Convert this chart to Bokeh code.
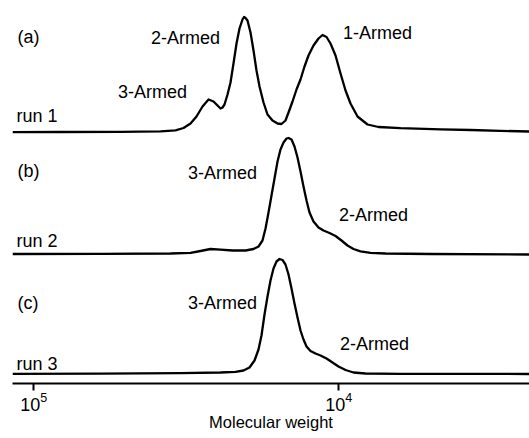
import numpy as np
from bokeh.plotting import figure
from bokeh.models import Range1d, Label, FixedTicker
from bokeh.embed import file_html
from bokeh.resources import INLINE

# ---- data: log10(molecular weight) and detector signal ----
log_mw_run1 = [5.0699, 4.9125, 4.7158, 4.5846, 4.5354, 4.5092, 4.4862, 4.4666, 4.4469, 4.4272,
               4.4108, 4.3879, 4.3813, 4.3748, 4.3649, 4.3551, 4.3453, 4.3354, 4.3256, 4.3158,
               4.3108, 4.3059, 4.2994, 4.2895, 4.2797, 4.2699, 4.2600, 4.2469, 4.2338, 4.2174,
               4.2010, 4.1879, 4.1748, 4.1649, 4.1518, 4.1387, 4.1256, 4.1125, 4.0994, 4.0830,
               4.0666, 4.0535, 4.0403, 4.0272, 4.0108, 3.9944, 3.9780, 3.9617, 3.9387, 3.9059,
               3.8699, 3.7977, 3.6666, 3.5682, 3.4698, 3.3748]
signal_run1 = [0.0, 0.2, 0.4, 0.9, 1.9, 4.2, 8.7, 15.7, 25.7, 32.7,
               30.7, 23.7, 24.7, 27.7, 37.7, 49.7, 68.7, 88.7, 103.7, 112.7,
               115.2, 114.2, 111.7, 99.7, 81.7, 61.7, 45.7, 29.7, 17.7, 11.7,
               8.7, 8.2, 11.7, 19.7, 30.7, 42.7, 52.7, 65.7, 76.7, 86.7,
               93.7, 97.2, 95.2, 88.7, 76.7, 58.7, 41.7, 28.7, 15.7, 7.7,
               5.2, 4.0, 2.9, 2.2, 1.4, 0.7]

log_mw_run2 = [5.0699, 4.7813, 4.5518, 4.4862, 4.4535, 4.4207, 4.3879, 4.3485, 4.3059, 4.2797,
               4.2633, 4.2502, 4.2403, 4.2305, 4.2207, 4.2108, 4.2010, 4.1912, 4.1813, 4.1715,
               4.1649, 4.1551, 4.1453, 4.1354, 4.1256, 4.1158, 4.1059, 4.0961, 4.0830, 4.0666,
               4.0502, 4.0305, 4.0108, 3.9912, 3.9715, 3.9518, 3.9289, 3.8961, 3.8469, 3.6994,
               3.3748]
signal_run2 = [0.5, 0.7, 1.0, 1.7, 3.5, 5.5, 4.8, 4.0, 4.0, 5.5,
               8.0, 14.0, 26.0, 42.0, 59.0, 76.0, 93.0, 105.0, 112.0, 116.0,
               116.5, 115.0, 108.0, 97.0, 83.0, 68.0, 54.0, 42.0, 33.0, 27.0,
               24.0, 21.5, 18.5, 14.0, 9.0, 5.5, 3.2, 1.7, 1.0, 0.5,
               0.0]

log_mw_run3 = [5.0699, 4.7813, 4.5190, 4.3879, 4.3387, 4.3125, 4.2928, 4.2764, 4.2633, 4.2535,
               4.2436, 4.2338, 4.2240, 4.2141, 4.2043, 4.1944, 4.1846, 4.1748, 4.1649, 4.1551,
               4.1453, 4.1354, 4.1256, 4.1158, 4.1059, 4.0928, 4.0764, 4.0600, 4.0403, 4.0207,
               4.0010, 3.9780, 3.9518, 3.9125, 3.7977, 3.3748]
signal_run3 = [0.2, 0.4, 0.8, 1.5, 2.2, 3.5, 6.5, 13.5, 24.5, 38.5,
               59.5, 77.5, 93.5, 105.5, 112.5, 115.0, 114.0, 109.5, 99.5, 85.5,
               70.5, 56.5, 43.5, 34.5, 27.5, 23.0, 20.5, 18.5, 15.5, 11.5,
               7.5, 4.0, 1.5, 0.5, 0.2, 0.0]

run_offsets = [251.3, 129.0, 9.5]

tick_values = [100000, 10000]   # shown as 10^5 and 10^4

# annotations: text, log10(MW), y
panel_texts = ["(a)", "run 1", "(b)", "run 2", "(c)", "run 3"]
panel_logmw = [5.0535, 5.0567, 5.0535, 5.0567, 5.0535, 5.0567]
panel_y = [347.0, 267.5, 212.5, 143.0, 80.5, 19.5]

peak_texts = ["2-Armed", "1-Armed", "3-Armed", "3-Armed", "2-Armed", "3-Armed", "2-Armed"]
peak_logmw = [4.5026, 3.8731, 4.6108, 4.3813, 3.8862, 4.3813, 3.8830]
peak_y = [345.5, 350.5, 292.0, 210.5, 168.5, 80.5, 40.0]

FONT = "Liberation Sans"

p = figure(width=529, height=438, x_axis_type="log",
           x_range=Range1d(10 ** 5.0699, 10 ** 3.3748), y_range=Range1d(0, 375),
           output_backend="svg", toolbar_location=None,
           min_border_left=12, min_border_right=0, min_border_top=8, min_border_bottom=55)
p.background_fill_color = "white"
p.border_fill_color = "white"
p.outline_line_color = None
p.grid.visible = False
p.yaxis.visible = False

for lx, sig, off in [(log_mw_run1, signal_run1, run_offsets[0]),
                     (log_mw_run2, signal_run2, run_offsets[1]),
                     (log_mw_run3, signal_run3, run_offsets[2])]:
    mw = 10 ** np.array(lx)
    y = np.array(sig) + off
    p.line(mw, y, line_color="black", line_width=2.3, line_join="round")

ax = p.xaxis[0]
ax.ticker = FixedTicker(ticks=tick_values, minor_ticks=[])
ax.axis_line_width = 2
ax.axis_line_color = "black"
ax.major_tick_line_width = 2
ax.major_tick_in = 0
ax.major_tick_out = 7
ax.minor_tick_in = 0
ax.minor_tick_out = 0
ax.major_label_text_font = FONT
ax.major_label_text_font_size = "18px"
ax.major_label_text_color = "black"
ax.major_label_standoff = 1
ax.axis_label = "Molecular weight"
ax.axis_label_text_font = FONT
ax.axis_label_text_font_size = "16.5px"
ax.axis_label_text_font_style = "normal"
ax.axis_label_text_color = "black"
ax.axis_label_standoff = -1

for t, lx, yy in zip(panel_texts, panel_logmw, panel_y):
    p.add_layout(Label(x=10 ** lx, y=yy, text=t, text_align="left", text_baseline="middle",
                       text_font=FONT, text_font_size="18px", text_color="black"))
for t, lx, yy in zip(peak_texts, peak_logmw, peak_y):
    p.add_layout(Label(x=10 ** lx, y=yy, text=t, text_align="center", text_baseline="middle",
                       text_font=FONT, text_font_size="18px", text_color="black"))

open("out.html", "w").write(file_html(p, INLINE))
